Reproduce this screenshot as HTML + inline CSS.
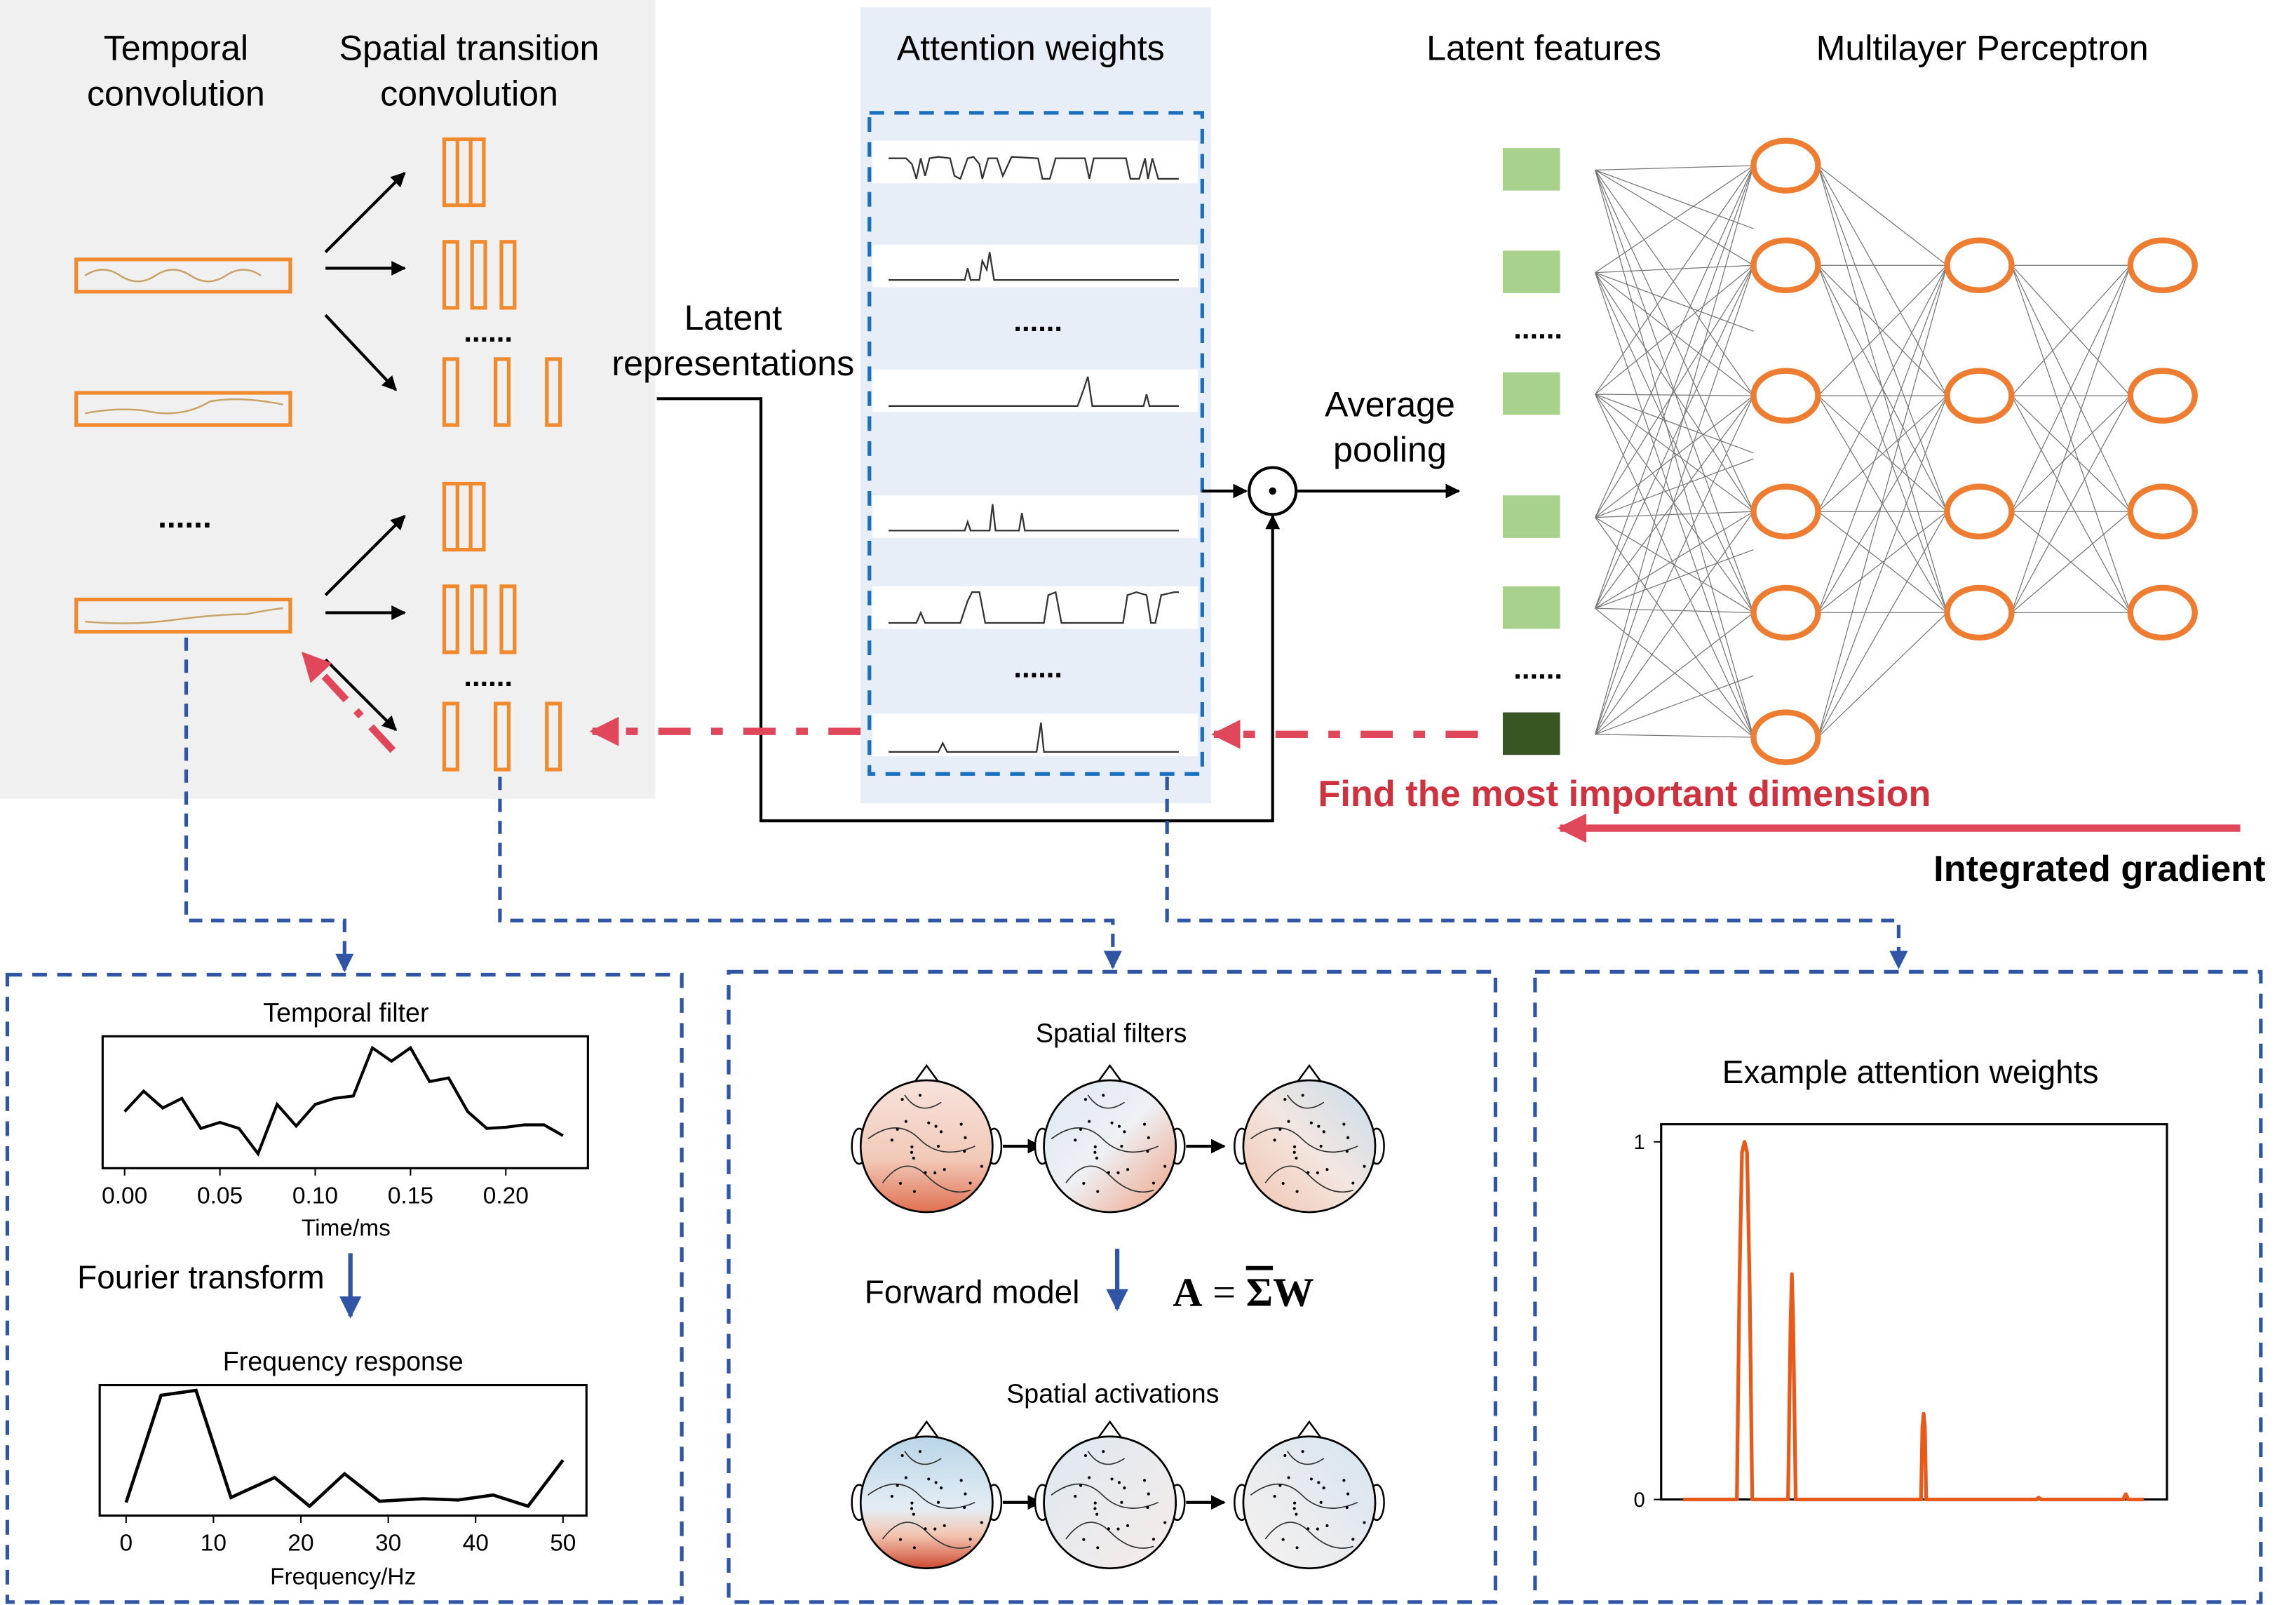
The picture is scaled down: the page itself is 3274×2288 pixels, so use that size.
<!DOCTYPE html>
<html><head><meta charset="utf-8"><style>
html,body{margin:0;padding:0;background:#fff}
svg{display:block}
text{font-family:"Liberation Sans",Arial,sans-serif}
</style></head><body>
<svg id="fig" width="3274" height="2288" viewBox="0 0 1566 1095" preserveAspectRatio="none" xmlns="http://www.w3.org/2000/svg">
<defs>
<marker id="ah" viewBox="0 0 10 10" refX="9" refY="5" markerWidth="5" markerHeight="5" orient="auto"><path d="M0,0L10,5L0,10z" fill="#000"/></marker>
<marker id="ahr" viewBox="0 0 10 10" refX="9" refY="5" markerWidth="4" markerHeight="4" orient="auto"><path d="M0,0L10,5L0,10z" fill="#e0475a"/></marker>
<marker id="ahb" viewBox="0 0 10 10" refX="9" refY="5" markerWidth="5" markerHeight="5" orient="auto"><path d="M0,0L10,5L0,10z" fill="#2f55a4"/></marker>
<linearGradient id="g1" x1="0" y1="0" x2="0" y2="1"><stop offset="0" stop-color="#f7e3dc"/><stop offset="0.6" stop-color="#f2c9b8"/><stop offset="1" stop-color="#e07050"/></linearGradient>
<linearGradient id="g2" x1="0" y1="0" x2="1" y2="1"><stop offset="0" stop-color="#dfe8f2"/><stop offset="0.5" stop-color="#eef0f4"/><stop offset="1" stop-color="#ef9f80"/></linearGradient>
<linearGradient id="g3" x1="1" y1="0" x2="0" y2="1"><stop offset="0" stop-color="#c6dcec"/><stop offset="0.5" stop-color="#f3e6e0"/><stop offset="1" stop-color="#f2c2ad"/></linearGradient>
<linearGradient id="g4" x1="0" y1="0" x2="0" y2="1"><stop offset="0" stop-color="#b9d5e8"/><stop offset="0.55" stop-color="#e4edf4"/><stop offset="0.75" stop-color="#f2c4b0"/><stop offset="1" stop-color="#cf4a32"/></linearGradient>
<linearGradient id="g5" x1="0" y1="0" x2="1" y2="1"><stop offset="0" stop-color="#dde8f1"/><stop offset="1" stop-color="#f6ece8"/></linearGradient>
<linearGradient id="g6" x1="1" y1="0" x2="0" y2="1"><stop offset="0" stop-color="#d6e4ef"/><stop offset="1" stop-color="#f7f2ef"/></linearGradient>
</defs>

<rect x="0" y="0" width="447" height="545" fill="#f0f0f0"/>
<text x="120" y="41" font-size="24" text-anchor="middle">Temporal</text>
<text x="120" y="72" font-size="24" text-anchor="middle">convolution</text>
<text x="320" y="41" font-size="24" text-anchor="middle">Spatial transition</text>
<text x="320" y="72" font-size="24" text-anchor="middle">convolution</text>

<g fill="none">
<rect x="52" y="177" width="146" height="22" stroke="#f08a2c" stroke-width="2.5"/>
<path d="M58,188 q12,-8 24,0 t24,0 t24,0 t24,0 t24,0" stroke="#c8a36a" stroke-width="1.2"/>
<rect x="52" y="268" width="146" height="22" stroke="#f08a2c" stroke-width="2.5"/>
<path d="M58,282 q20,-4 40,-2 q25,6 45,-6 q20,-4 50,2" stroke="#c8a36a" stroke-width="1.2"/>
<rect x="52" y="409" width="146" height="22" stroke="#f08a2c" stroke-width="2.5"/>
<path d="M58,424 q30,3 60,-1 q30,-4 50,-4 q15,-3 25,-4" stroke="#c8a36a" stroke-width="1.2"/>
</g>
<text x="126" y="360" font-size="22" font-weight="bold" text-anchor="middle">......</text>

<g fill="none" stroke="#f08a2c" stroke-width="2.5">
<rect x="303" y="95" width="27" height="45"/><line x1="312" y1="95" x2="312" y2="140"/><line x1="321" y1="95" x2="321" y2="140"/>
<rect x="303" y="165" width="9" height="45"/><rect x="322" y="165" width="9" height="45"/><rect x="342" y="165" width="9" height="45"/>
<rect x="303" y="245" width="9" height="45"/><rect x="338" y="245" width="9" height="45"/><rect x="373" y="245" width="9" height="45"/>
<rect x="303" y="330" width="27" height="45"/><line x1="312" y1="330" x2="312" y2="375"/><line x1="321" y1="330" x2="321" y2="375"/>
<rect x="303" y="400" width="9" height="45"/><rect x="322" y="400" width="9" height="45"/><rect x="342" y="400" width="9" height="45"/>
<rect x="303" y="480" width="9" height="45"/><rect x="338" y="480" width="9" height="45"/><rect x="373" y="480" width="9" height="45"/>
</g>
<text x="333" y="233" font-size="20" font-weight="bold" text-anchor="middle">......</text>
<text x="333" y="468" font-size="20" font-weight="bold" text-anchor="middle">......</text>
<g stroke="#000" stroke-width="2" marker-end="url(#ah)">
<line x1="222" y1="172" x2="276" y2="118"/><line x1="222" y1="183" x2="276" y2="183"/><line x1="222" y1="215" x2="270" y2="266"/>
<line x1="222" y1="406" x2="276" y2="352"/><line x1="222" y1="418" x2="276" y2="418"/><line x1="222" y1="450" x2="270" y2="498"/>
</g>
<line x1="268" y1="512" x2="207" y2="446" stroke="#e0475a" stroke-width="5" stroke-dasharray="22,10,5,10" marker-end="url(#ahr)"/>

<text x="500" y="225" font-size="24" text-anchor="middle">Latent</text>
<text x="500" y="256" font-size="24" text-anchor="middle">representations</text>
<path d="M448,272H519V560H868V352" fill="none" stroke="#000" stroke-width="2" marker-end="url(#ah)"/>

<rect x="587" y="5" width="239" height="543" fill="#e8eef8"/>
<text x="703" y="41" font-size="24" text-anchor="middle">Attention weights</text>
<g fill="#fff">
<rect x="595" y="96" width="222" height="29"/><rect x="595" y="167" width="222" height="29"/><rect x="595" y="252" width="222" height="29"/>
<rect x="595" y="338" width="222" height="29"/><rect x="595" y="400" width="222" height="29"/><rect x="595" y="487" width="222" height="29"/>
</g>
<g fill="none" stroke="#333" stroke-width="1.1">
<path d="M606,108 H618 L622,112 L625,122 L628,108 L631,120 L634,108 L640,107 L648,108 L651,120 L655,122 L660,108 L664,107 L668,112 L670,122 L674,108 L680,108 L684,120 L690,107 L708,108 L711,122 L716,122 L720,108 L740,108 L743,122 L746,108 L768,108 L771,122 L777,122 L781,108 L783,122 L786,108 L790,122 L796,122 L804,122"/>
<path d="M606,191 H658 L660,183 L662,191 L668,191 L670,178 L673,184 L675,172 L678,191 L804,191"/>
<path d="M606,277 H735 L739,266 L742,257 L745,277 L780,277 L782,269 L784,277 L804,277"/>
<path d="M606,362 H658 L660,356 L662,362 L675,362 L677,344 L679,362 L695,362 L697,350 L699,362 L804,362"/>
<path d="M606,425 H625 L628,418 L631,425 L655,425 L660,410 L663,404 L668,404 L672,425 L690,425 L712,425 L715,406 L720,404 L724,425 L766,425 L769,406 L775,404 L782,406 L785,425 L788,425 L792,406 L801,404 L804,404"/>
<path d="M606,513 H640 L643,507 L646,513 L707,513 L709,500 L710,493 L712,513 L804,513"/>
</g>
<text x="708" y="226" font-size="20" font-weight="bold" text-anchor="middle">......</text>
<text x="708" y="462" font-size="20" font-weight="bold" text-anchor="middle">......</text>
<rect x="593" y="77" width="227" height="451" fill="none" stroke="#1a6fbf" stroke-width="2.5" stroke-dasharray="10,7"/>

<line x1="820" y1="335" x2="850" y2="335" stroke="#000" stroke-width="2" marker-end="url(#ah)"/>
<circle cx="868" cy="335" r="16" fill="#fff" stroke="#000" stroke-width="2"/>
<circle cx="868" cy="335" r="2.5" fill="#000"/>
<line x1="885" y1="335" x2="995" y2="335" stroke="#000" stroke-width="2" marker-end="url(#ah)"/>
<text x="948" y="284" font-size="24" text-anchor="middle">Average</text>
<text x="948" y="315" font-size="24" text-anchor="middle">pooling</text>

<text x="1053" y="41" font-size="24" text-anchor="middle">Latent features</text>
<text x="1352" y="41" font-size="24" text-anchor="middle">Multilayer Perceptron</text>
<g id="net"></g>
<text x="1049" y="231" font-size="20" font-weight="bold" text-anchor="middle">......</text>
<text x="1049" y="463" font-size="20" font-weight="bold" text-anchor="middle">......</text>

<line x1="1008" y1="501" x2="828" y2="501" stroke="#e0475a" stroke-width="5" stroke-dasharray="22,14,8,14" marker-end="url(#ahr)"/>
<line x1="587" y1="499" x2="404" y2="499" stroke="#e0475a" stroke-width="5" stroke-dasharray="22,14,8,14" marker-end="url(#ahr)"/>
<line x1="1528" y1="565" x2="1064" y2="565" stroke="#e0475a" stroke-width="5" marker-end="url(#ahr)"/>
<text x="1108" y="550" font-size="25" font-weight="bold" fill="#d0313f" text-anchor="middle">Find the most important dimension</text>
<text x="1432" y="601" font-size="25" font-weight="bold" text-anchor="middle">Integrated gradient</text>

<g fill="none" stroke="#2f55a4" stroke-width="2.5" stroke-dasharray="9,6" marker-end="url(#ahb)">
<path d="M127,435V628H235V662"/><path d="M341,530V628H759V660"/><path d="M796,530V628H1295V660"/>
</g>

<g fill="none" stroke="#2f55a4" stroke-width="2.5" stroke-dasharray="10,7">
<rect x="5" y="665" width="460" height="428"/>
<rect x="497" y="663" width="523" height="430"/>
<rect x="1047" y="663" width="495" height="430"/>
</g>

<text x="236" y="697" font-size="18" text-anchor="middle">Temporal filter</text>
<rect x="70" y="707" width="331" height="90" fill="none" stroke="#000" stroke-width="1.5"/>
<g id="tf"></g>
<text x="236" y="843" font-size="16" text-anchor="middle">Time/ms</text>
<text x="137" y="879" font-size="22" text-anchor="middle">Fourier transform</text>
<line x1="239" y1="855" x2="239" y2="898" stroke="#2f55a4" stroke-width="3" marker-end="url(#ahb)"/>
<text x="234" y="935" font-size="18" text-anchor="middle">Frequency response</text>
<rect x="68" y="945" width="332" height="89" fill="none" stroke="#000" stroke-width="1.5"/>
<g id="fr"></g>
<text x="234" y="1081" font-size="16" text-anchor="middle">Frequency/Hz</text>

<text x="758" y="711" font-size="18" text-anchor="middle">Spatial filters</text>
<text x="759" y="957" font-size="18" text-anchor="middle">Spatial activations</text>
<g id="topo"></g>
<text x="663" y="889" font-size="22" text-anchor="middle">Forward model</text>
<line x1="762" y1="852" x2="762" y2="893" stroke="#2f55a4" stroke-width="3" marker-end="url(#ahb)"/>
<text x="848" y="891" font-size="28" style="font-family:'Liberation Serif',serif" text-anchor="middle"><tspan font-weight="bold">A</tspan> = <tspan font-weight="bold" text-decoration="overline">Σ</tspan><tspan font-weight="bold">W</tspan></text>

<text x="1303" y="739" font-size="22" text-anchor="middle">Example attention weights</text>
<rect x="1133" y="767" width="345" height="256" fill="none" stroke="#000" stroke-width="1.5"/>
<g id="ae"></g>
</svg>
<script>
const tfTimes=[0,0.01,0.02,0.03,0.04,0.05,0.06,0.07,0.08,0.09,0.10,0.11,0.12,0.13,0.14,0.15,0.16,0.17,0.18,0.19,0.20,0.21,0.22,0.23];
const tfValues=[0.41,0.58,0.44,0.52,0.27,0.32,0.27,0.06,0.47,0.29,0.47,0.52,0.54,0.94,0.83,0.94,0.66,0.69,0.41,0.27,0.28,0.30,0.30,0.21];
const tfTicks=["0.00","0.05","0.10","0.15","0.20"];
const tfTickVals=[0,0.05,0.10,0.15,0.20];
const frFreqs=[0,4,8,12,17,21,25,29,34,38,42,46,50];
const frValues=[0.07,0.93,0.97,0.11,0.27,0.04,0.30,0.08,0.10,0.09,0.13,0.04,0.41];
const frTicks=["0","10","20","30","40","50"];
const frTickVals=[0,10,20,30,40,50];
const aeIdx=[0,21,22,23,24,25,26,27,41,42,42.5,43,44,93,93.5,94,94.5,95,138,139,140,172,173,174,180];
const aeVals=[0,0,0.6,0.97,1.0,0.97,0.6,0,0,0.5,0.63,0.5,0,0,0.2,0.24,0.2,0,0,0.005,0,0,0.015,0,0];
const aeYTicks=["0","1"];
const aeYTickVals=[0,1];

const NS="http://www.w3.org/2000/svg";
function mk(tag,attrs,parent){const e=document.createElementNS(NS,tag);for(const k in attrs)e.setAttribute(k,attrs[k]);parent.appendChild(e);return e;}

(function(){
const g=document.getElementById('tf');
const x=t=>85+t*1300, y=v=>792-v*82;
const l=mk('polyline',{points:tfTimes.map((t,i)=>x(t)+','+y(tfValues[i])).join(' '),fill:'none',stroke:'#000','stroke-width':2},g);


tfTickVals.forEach((t,i)=>{mk('line',{x1:x(t),y1:797,x2:x(t),y2:802,stroke:'#000'},g);
const tx=mk('text',{x:x(t),y:821,'font-size':16,'text-anchor':'middle'},g);tx.textContent=tfTicks[i];

});
})();
(function(){
const g=document.getElementById('fr');
const x=f=>86+f*5.96, y=v=>1031-v*85;
const l=mk('polyline',{points:frFreqs.map((f,i)=>x(f)+','+y(frValues[i])).join(' '),fill:'none',stroke:'#000','stroke-width':2.2},g);


frTickVals.forEach((f,i)=>{mk('line',{x1:x(f),y1:1034,x2:x(f),y2:1039,stroke:'#000'},g);
const tx=mk('text',{x:x(f),y:1058,'font-size':16,'text-anchor':'middle'},g);tx.textContent=frTicks[i];

});
})();
(function(){
const g=document.getElementById('ae');
const x=i=>1148+i*1.745, y=v=>1023-v*244;
const l=mk('polyline',{points:aeIdx.map((i,k)=>x(i)+','+y(aeVals[k])).join(' '),fill:'none',stroke:'#e8591a','stroke-width':2.5,'stroke-linejoin':'round'},g);


aeYTickVals.forEach((v,i)=>{mk('line',{x1:1128,y1:y(v),x2:1133,y2:y(v),stroke:'#000'},g);
const tx=mk('text',{x:1122,y:y(v)+5,'font-size':14,'text-anchor':'end'},g);tx.textContent=aeYTicks[i];

});
})();
(function(){
const g=document.getElementById('net');
const sq=[116,186,269,353,415,501];
const l1=[113,181,270,349,418,503], l2=[181,270,349,418], l3=[181,270,349,418];
const lines=mk('g',{stroke:'#777','stroke-width':0.6},g);
sq.forEach(a=>l1.forEach(b=>mk('line',{x1:1088,y1:a,x2:1196,y2:b},lines)));
sq.forEach(a=>mk('line',{x1:1088,y1:a,x2:1196,y2:a+(a>300?-40:40)},lines));
l1.forEach(a=>l2.forEach(b=>mk('line',{x1:1240,y1:a,x2:1328,y2:b},lines)));
l2.forEach(a=>l3.forEach(b=>mk('line',{x1:1372,y1:a,x2:1453,y2:b},lines)));
sq.forEach((s,i)=>{const r=mk('rect',{x:1025,y:s-15,width:39,height:29,fill:i==5?'#375623':'#a9d18e'},g);

});
[[1218,l1],[1350,l2],[1475,l3]].forEach(([cx,arr])=>arr.forEach(cy=>{const c=mk('ellipse',{cx:cx,cy:cy,rx:22,ry:17,fill:'#fff',stroke:'#ee7d31','stroke-width':4},g);

}));
})();
(function(){
const g=document.getElementById('topo');
const xs=[632,757,893], rows=[[782,['g1','g2','g3']],[1025,['g4','g5','g6']]];
rows.forEach(([cy,gs])=>{xs.forEach((cx,i)=>{
mk('path',{d:`M${cx-8},${cy-44} L${cx},${cy-55} L${cx+8},${cy-44}`,fill:'#fff',stroke:'#000','stroke-width':1.2},g);
mk('ellipse',{cx:cx-46,cy:cy,rx:5,ry:12,fill:'#fff',stroke:'#000','stroke-width':1.2},g);
mk('ellipse',{cx:cx+46,cy:cy,rx:5,ry:12,fill:'#fff',stroke:'#000','stroke-width':1.2},g);
const c=mk('circle',{cx:cx,cy:cy,r:45,fill:'url(#'+gs[i]+')',stroke:'#000','stroke-width':1.3},g);


mk('path',{d:`M${cx-40},${cy-5} q20,-15 35,0 t38,5 M${cx-30},${cy+25} q15,-20 30,-5 t30,10 M${cx-15},${cy-35} q10,15 25,5`,fill:'none',stroke:'#333','stroke-width':0.8},g);
for(let a=0;a<22;a++){const ang=a*2.4, rr=8+ (a*37%33);mk('circle',{cx:cx+rr*Math.cos(ang),cy:cy+rr*Math.sin(ang),r:1,fill:'#000'},g);}
if(i<2){mk('line',{x1:cx+52,y1:cy,x2:cx+78,y2:cy,stroke:'#000','stroke-width':2,'marker-end':'url(#ah)'},g);}
});});
})();
</script>
</body></html>
